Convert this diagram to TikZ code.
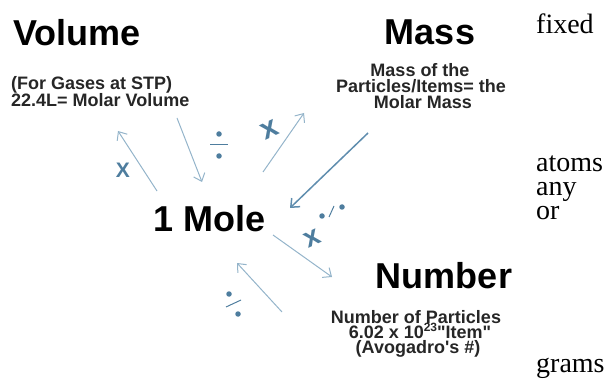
\documentclass[tikz,border=0pt]{standalone}
\usepackage{fontspec}
\setmainfont{Liberation Sans}
\newfontfamily\serifface{Liberation Serif}
% same face without the TeX quote mapping, for straight quote marks
\newfontfamily\plainsans{Liberation Sans}
\usetikzlibrary{arrows.meta}

\definecolor{arrowlight}{HTML}{94B4CA}
\definecolor{arrowdark}{HTML}{5F8DAE}
\definecolor{opblue}{HTML}{4E7D9E}
\definecolor{notegray}{HTML}{262626}

\begin{document}
\begin{tikzpicture}[x=1pt,y=-1pt,
  title/.style={font=\bfseries\fontsize{36}{36}\selectfont, text=black, inner sep=0pt},
  note/.style={font=\bfseries\fontsize{18}{15}\selectfont, text=notegray, inner sep=0pt, anchor=base},
  side/.style={font=\serifface\fontsize{28}{28}\selectfont, inner sep=0pt, anchor=base west},
  conv/.style={draw=arrowlight, line width=1pt, -{Straight Barb[length=7pt,width=12pt]}},
  convdark/.style={conv, draw=arrowdark, line width=1.5pt},
  opsign/.style={text=opblue, inner sep=0pt},
  opdot/.style={fill=opblue, circle, inner sep=0pt, minimum size=5.5pt},
  opbar/.style={draw=opblue, line width=1pt}
]
\useasboundingbox (0,0) rectangle (615,379);

% headings
\node[title, anchor=base west] (volume) at (13,46) {Volume};
\node[title, anchor=base] (mass) at (430,45) {Mass};
\node[title, anchor=base] (mole) at (210,232) {1 Mole};
\node[title, anchor=base] (number) at (444,288) {Number};

% notes under the headings
\node[note, anchor=base west] (vol1) at (11,90) {(For Gases at STP)};
\node[note, anchor=base west] (vol2) at (11,107) {22.4L= Molar Volume};
\node[note] (mass1) at (420,77) {Mass of the};
\node[note] (mass2) at (421,93) {Particles/Items= the};
\node[note] (mass3) at (423,109) {Molar Mass};
\node[note] (num1) at (416,323) {Number of Particles};
\node[note] (num2) at (420,338) {6.02 x 10\raisebox{7pt}{\fontsize{12}{12}\selectfont 23}{\plainsans\bfseries "Item"}};
\node[note] (num3) at (418,353) {(Avogadro{\plainsans\bfseries '}s \#)};

% loose words in the right column
\node[side] (w1) at (536,34) {fixed};
\node[side] (w2) at (536,172) {atoms};
\node[side] (w3) at (536,196) {any};
\node[side] (w4) at (536,220) {or};
\node[side] (w5) at (536,372) {grams};

% conversion arrows
\coordinate (a1) at (157,191); \coordinate (a2) at (118,131);
\coordinate (b1) at (177,118); \coordinate (b2) at (202,182);
\coordinate (c1) at (263,172); \coordinate (c2) at (304,113);
\coordinate (d1) at (368,133); \coordinate (d2) at (290,208);
\coordinate (e1) at (273,235); \coordinate (e2) at (332,277);
\coordinate (f1) at (282,312); \coordinate (f2) at (237,263);
\draw[conv] (a1) -- (a2);
\draw[conv] (b1) -- (b2);
\draw[conv] (c1) -- (c2);
\draw[convdark] (d1) -- (d2);
\draw[conv] (e1) -- (e2);
\draw[conv] (f1) -- (f2);

% operation signs
\node[opsign, font=\bfseries\fontsize{21}{21}\selectfont] (timesA) at (123,170) {X};
\node[opsign, font=\bfseries\fontsize{30}{30}\selectfont, rotate=25] (timesB) at (270,130) {x};
\node[opsign, font=\bfseries\fontsize{28}{28}\selectfont, rotate=25] (timesC) at (312,239) {x};

% upright division sign
\node[opdot] (divAtop) at (219,134) {};
\node[opdot] (divAbot) at (219,156) {};
\coordinate (divAl) at (210,145); \coordinate (divAr) at (228,145);
\draw[opbar] (divAl) -- (divAr);

% tilted division sign
\node[opdot] (divBtop) at (229,294) {};
\node[opdot] (divBbot) at (238,314) {};
\coordinate (divBl) at (226,307); \coordinate (divBr) at (241,300);
\draw[opbar] (divBl) -- (divBr);

% dot-slash-dot sign
\node[opdot] (divCl) at (322,216) {};
\node[opdot] (divCr) at (342,207) {};
\coordinate (divCa) at (329,217); \coordinate (divCb) at (334,206);
\draw[opbar] (divCa) -- (divCb);
\end{tikzpicture}
\end{document}
